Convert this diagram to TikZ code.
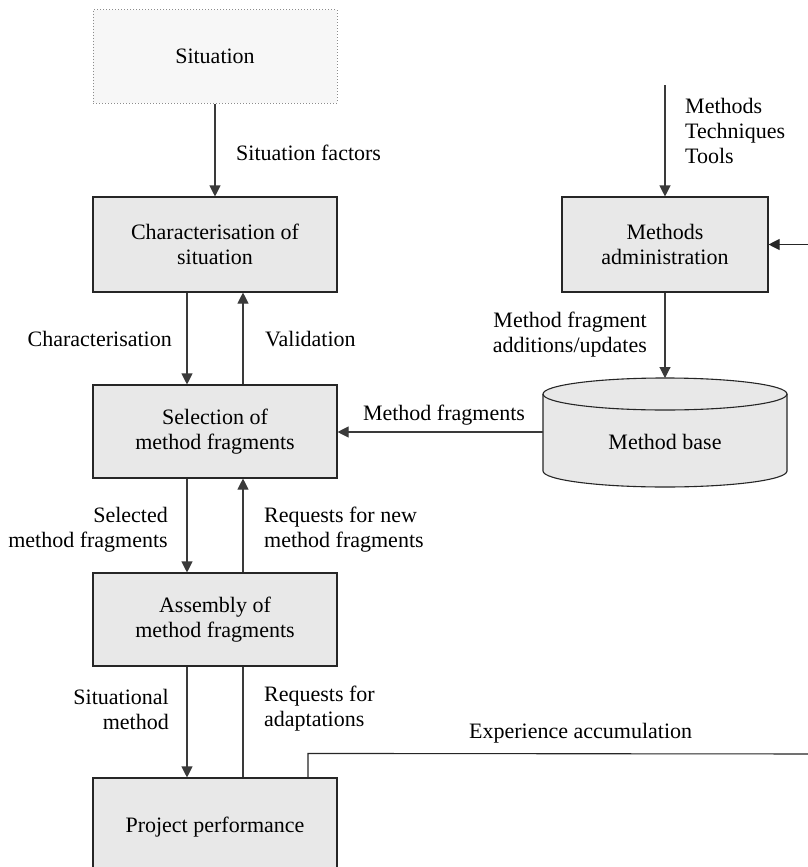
\documentclass[tikz,border=0pt]{standalone}
\usepackage{fontspec}
\setmainfont{Liberation Serif}
\usetikzlibrary{arrows.meta,positioning}

\definecolor{boxfill}{HTML}{E8E8E8}
\definecolor{sitfill}{HTML}{F7F7F7}
\definecolor{linegray}{HTML}{3A3A3A}

\begin{document}
\begin{tikzpicture}[x=1pt,y=-1pt,
  every node/.style={font=\fontsize{22}{25}\selectfont, inner sep=0pt},
  procbox/.style={draw=black!85, line width=1.1pt, fill=boxfill,
    minimum width=244pt, align=center},
  sitbox/.style={draw=black!45, dotted, line width=1pt, fill=sitfill,
    minimum width=244pt, minimum height=93pt, align=center},
  flow/.style={draw=linegray, line width=1.1pt,
    -{Triangle[length=11pt,width=11pt]}},
  plainline/.style={draw=black!85, line width=1.1pt},
  lbl/.style={align=left, anchor=west},
  lblr/.style={align=right, anchor=east}]

\clip (0,0) rectangle (808,867);
\fill[white] (0,0) rectangle (808,867);

% process chain on the left
\node[sitbox] (sit) at (215,56.5) {Situation};
\node[procbox, minimum height=95pt] (char) at (215,244.5) {Characterisation of\\situation};
\node[procbox, minimum height=93pt] (sel) at (215,431.5) {Selection of\\method fragments};
\node[procbox, minimum height=93pt] (asm) at (215,619.5) {Assembly of\\method fragments};
\node[procbox, minimum height=98pt] (proj) at (215,827) {Project performance};

% method administration on the right
\node[procbox, minimum width=206pt, minimum height=95pt] (madm) at (665,244.5) {Methods\\administration};

% method base cylinder (y axis points down: angle 90 is below the centre)
\filldraw[fill=boxfill, draw=black!85, line width=1.1pt]
  (543,394) -- (543,471) arc[start angle=180, end angle=0, x radius=122, y radius=16]
  -- (787,394) arc[start angle=0, end angle=-180, x radius=122, y radius=16] -- cycle;
\draw[black!85, line width=1.1pt] (543,394) arc[start angle=180, end angle=0, x radius=122, y radius=16];
\node (mbase) at (665,442) {Method base};
\coordinate (mbtop) at (665,378);
\coordinate (mbleft) at (543,432);

% connectors along the chain
\draw[flow] (sit.south) -- (char.north);
\draw[flow] ([xshift=-28pt]char.south) -- ([xshift=-28pt]sel.north);
\draw[flow] ([xshift=28pt]sel.north) -- ([xshift=28pt]char.south);
\draw[flow] ([xshift=-28pt]sel.south) -- ([xshift=-28pt]asm.north);
\draw[flow] ([xshift=28pt]asm.north) -- ([xshift=28pt]sel.south);
\draw[flow] ([xshift=-28pt]asm.south) -- ([xshift=-28pt]proj.north);
\draw[plainline, draw=linegray] ([xshift=28pt]proj.north) -- ([xshift=28pt]asm.south);

% connectors on the right side
\coordinate (mtin) at (665,85);
\draw[flow] (mtin) -- (madm.north);
\draw[flow] (madm.south) -- (mbtop);
\draw[flow] (mbleft) -- (sel.east |- mbleft);

% experience feedback loop
\coordinate (fbA) at (830,754);
\coordinate (fbB) at (830,244.5);
\draw[plainline] ([xshift=93pt]proj.north) -- ++(0,-24) -- (fbA) -- (fbB);
\draw[flow, draw=black!85] (fbB) -- (madm.east);

% connector labels
\node[lbl] (lsf) at (236,153) {Situation factors};
\node[lblr] (lch) at (172,339) {Characterisation};
\node[lbl] (lval) at (265,339) {Validation};
\node[lblr] (lsmf) at (168,530) {Selected\\method fragments};
\node[lbl] (lreq) at (264,530) {Requests for new\\method fragments};
\node[lblr] (lsm) at (169,709) {Situational\\method};
\node[lbl] (lada) at (264,709) {Requests for\\adaptations};
\node[lbl] (lexp) at (469,733) {Experience accumulation};
\node (lmf) at (444,415) {Method fragments};
\node[lblr] (ladd) at (647,335) {Method fragment\\additions/updates};
\node[lbl, align=left] (lmtt) at (685,131) {Methods\\Techniques\\Tools};

\end{tikzpicture}
\end{document}
